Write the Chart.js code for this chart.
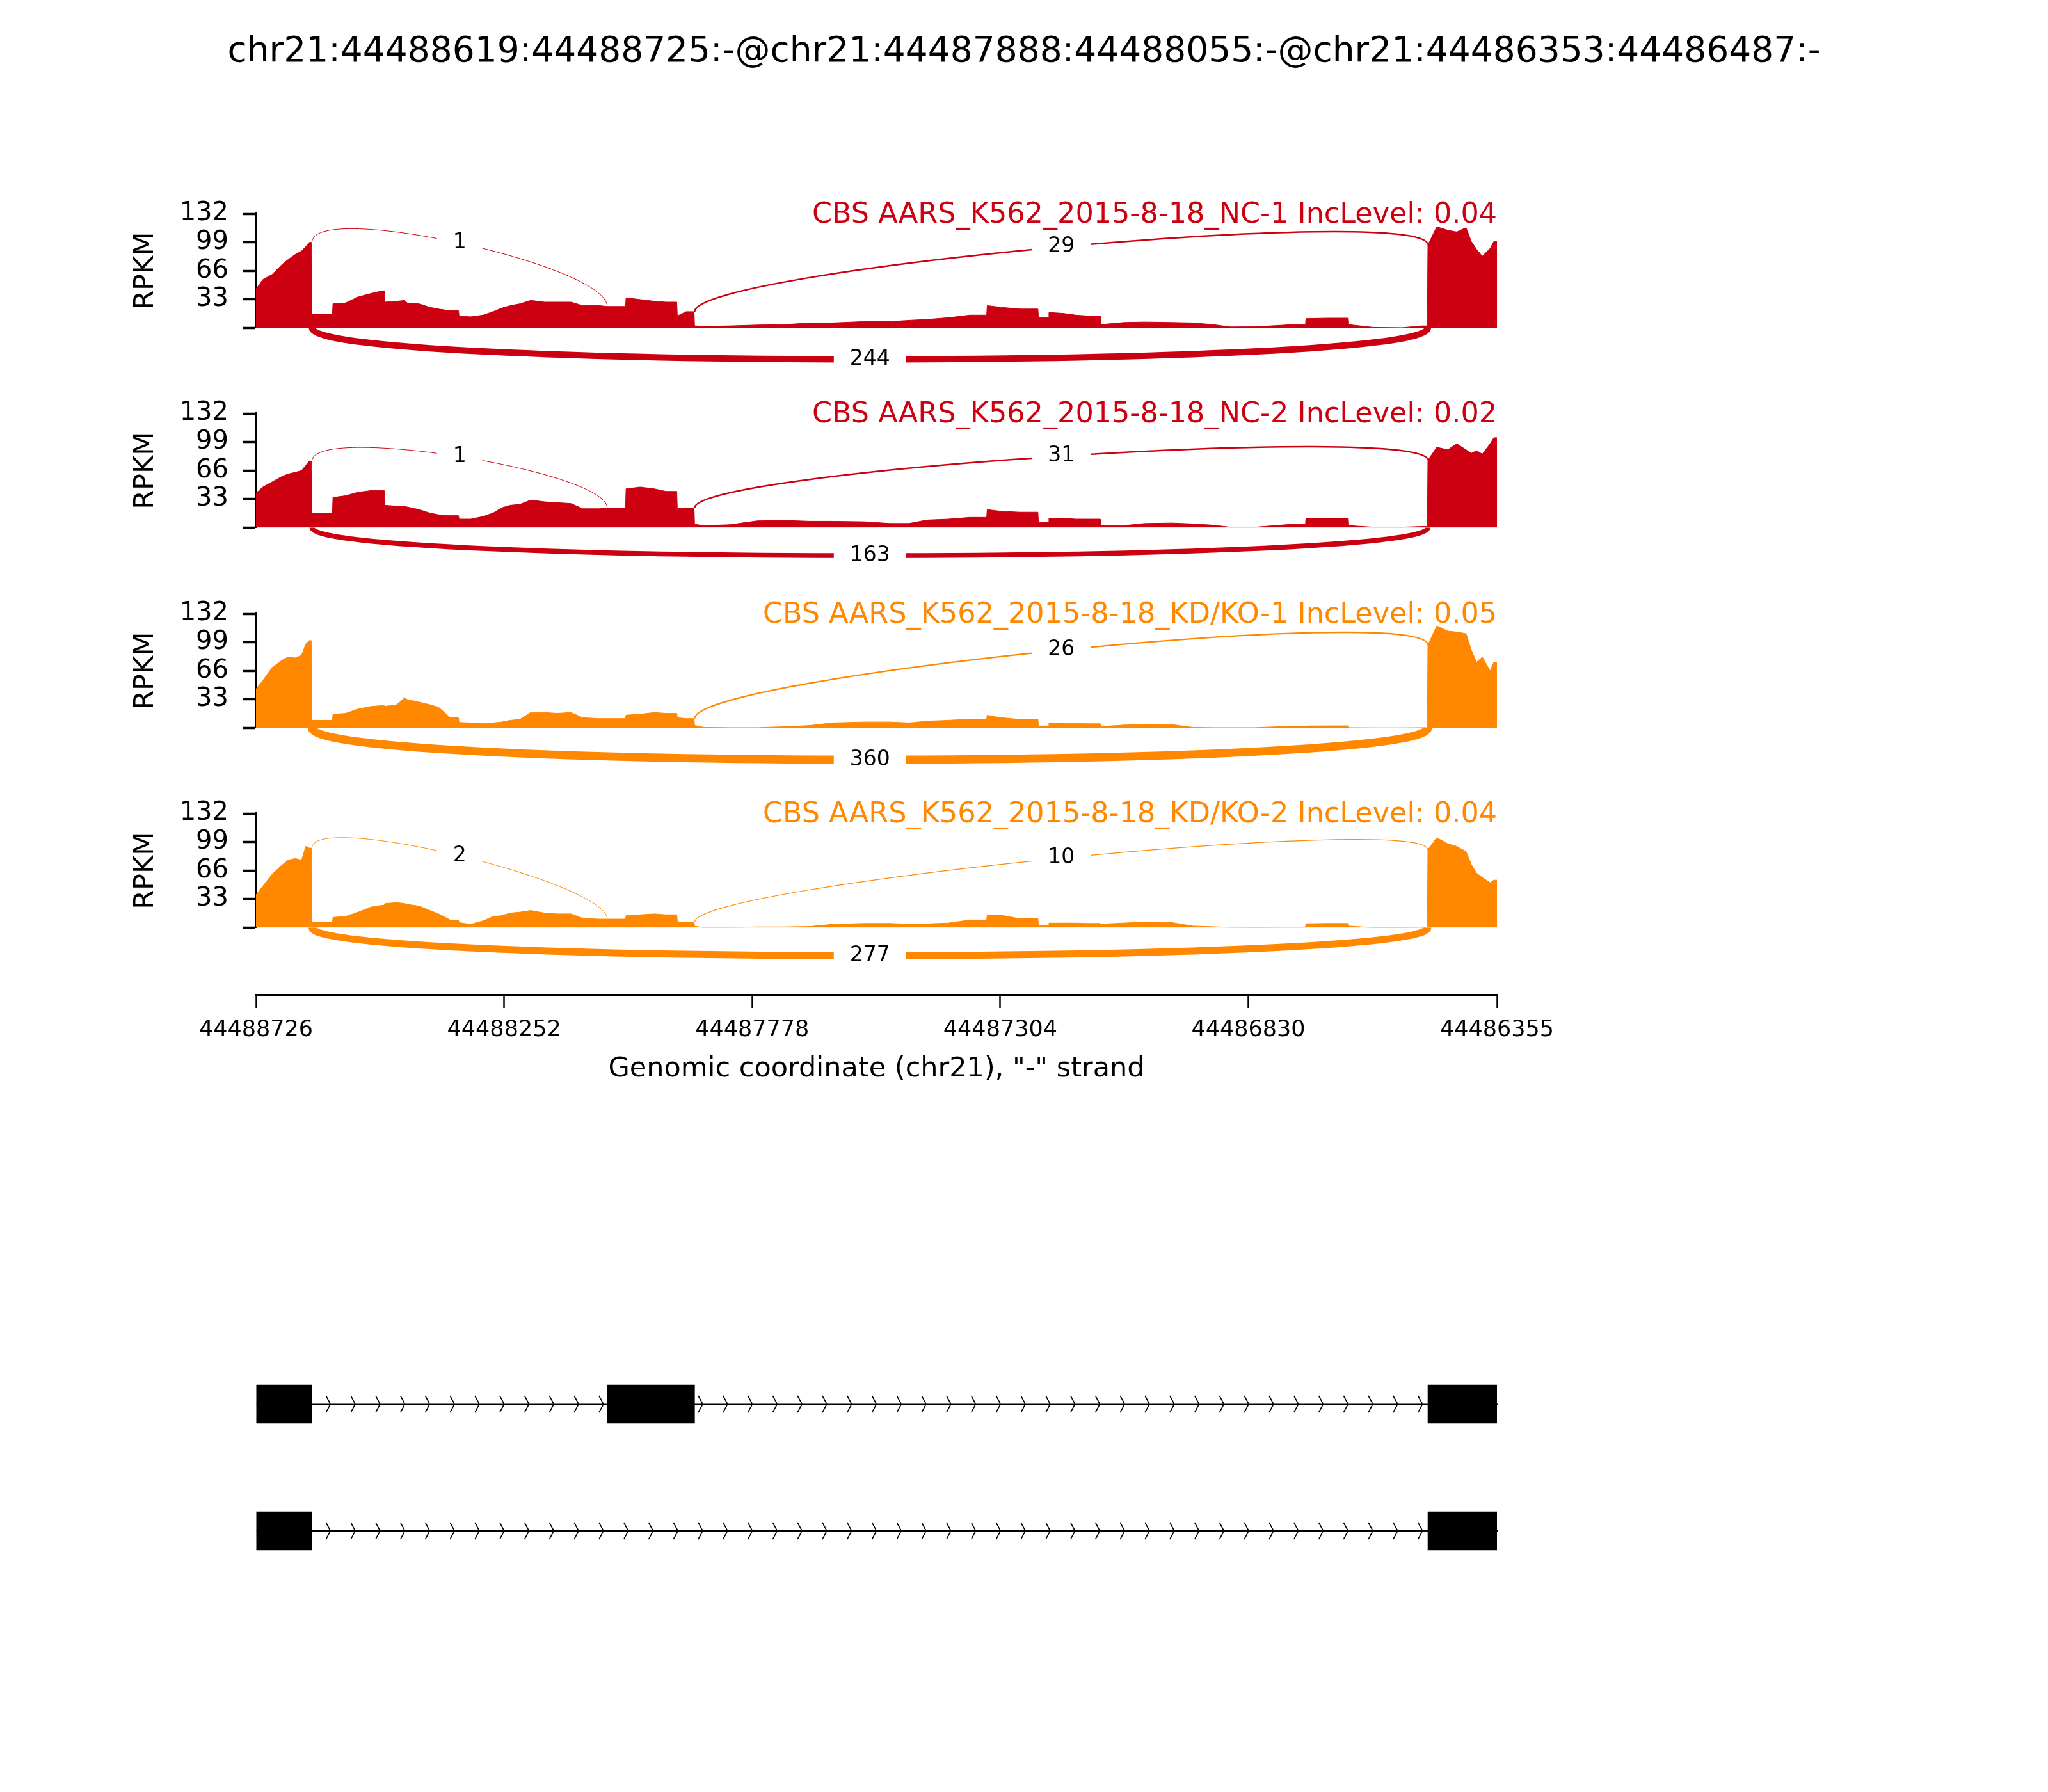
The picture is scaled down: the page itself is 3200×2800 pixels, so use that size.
<!DOCTYPE html>
<html>
<head>
<meta charset="utf-8">
<script src="https://cdn.jsdelivr.net/npm/chart.js@4.4.1/dist/chart.umd.min.js"></script>
<style>
  body { margin: 0; background: #fff; }
  #page { position: relative; width: 3200px; height: 2800px; background: #fff; overflow: hidden; }
  #page canvas { position: absolute; left: 0; }
  #title { position: absolute; left: 0; top: 50px; width: 3200px; text-align: center;
           font: 55px "DejaVu Sans"; line-height: 1; color: #000; }
</style>
</head>
<body>
<div id="page">
  <div id="title">chr21:44488619:44488725:-@chr21:44487888:44488055:-@chr21:44486353:44486487:-</div>
</div>
<script>
// genomic window, shown right-to-left ("-" strand)
const axisMax = 44488726;
const axisMin = 44486355;

const xTickValues = [44488726, 44488252, 44487778, 44487304, 44486830, 44486355];
const xTickLabels = ['44488726', '44488252', '44487778', '44487304', '44486830', '44486355'];

// coverage sample positions (last entry closes the track)
const positions = [
  44488726, 44488713, 44488695, 44488677, 44488665, 44488651, 44488639, 44488631, 44488624,
  44488619, 44488579, 44488555, 44488531, 44488506, 44488485, 44488480, 44488457, 44488442,
  44488437, 44488414, 44488394, 44488377, 44488355, 44488338, 44488316, 44488292, 44488273,
  44488257, 44488240, 44488222, 44488201, 44488175, 44488151, 44488124, 44488102, 44488071,
  44488055, 44488019, 44487992, 44487965, 44487943, 44487921, 44487904,
  44487888, 44487870, 44487821, 44487768, 44487717, 44487667, 44487625, 44487565, 44487515,
  44487478, 44487444, 44487403, 44487362, 44487329, 44487302, 44487266, 44487231, 44487211,
  44487184, 44487160, 44487136, 44487112, 44487068, 44487028, 44486976, 44486936, 44486897,
  44486865, 44486817, 44486754, 44486720, 44486677, 44486638, 44486591, 44486536, 44486499,
  44486487, 44486470, 44486449, 44486432, 44486414, 44486404, 44486394, 44486383, 44486368, 44486361,
  44486355
];
// positions where coverage jumps abruptly (exon edges, read pile-ups)
const cliffs = [44488619, 44488579, 44488480, 44488338, 44488019, 44487921, 44487888,
                44487329, 44487231, 44487211, 44487112, 44486720, 44486638, 44486487];

// RPKM at each position
const rpkmNC1 = [
  45, 56, 62, 73, 79, 85, 89, 94, 99,
  16, 28, 29, 36, 40, 43, 30, 31, 32,
  29, 28, 24, 22, 20, 14, 13, 15, 19,
  23, 26, 28, 32, 30, 30, 30, 26, 26,
  25, 35, 33, 31, 30, 14, 19,
  2.5, 2, 2.5, 3.5, 4, 6, 6, 7.5, 7.5,
  9, 10, 12, 15, 26, 24, 22, 12, 18,
  17, 15, 14, 4, 6.5, 7, 6.5, 6, 4,
  1.3, 1.5, 3.7, 11, 11.5, 4, 0.8, 0.5, 2.5,
  96, 117, 113, 111, 116, 100, 91, 83, 92, 100
];
const rpkmNC2 = [
  40, 47, 53, 59, 62, 64, 66, 72, 77,
  17, 35, 37, 41, 43, 43, 26, 25, 25,
  24, 21, 17, 15, 14, 10, 10, 13, 17,
  23, 26, 27, 32, 30, 29, 28, 22, 22,
  23, 45, 47, 45, 42, 22, 23,
  4, 2.5, 3.5, 8, 8.5, 7.5, 7.5, 7, 5,
  5, 9, 10, 12, 21, 19, 18, 6, 11,
  11, 10, 10, 2.5, 2.5, 5, 5.5, 4.5, 3,
  0.7, 0.7, 3.7, 11, 11, 2.5, 0.7, 0.7, 1.5,
  78, 93, 90, 97, 90, 86, 89, 85, 97, 104
];
const rpkmKD1 = [
  45, 55, 70, 78, 82, 81, 84, 97, 101,
  9, 16, 17, 22, 25, 26, 25, 27, 35,
  33, 30, 27, 24, 12, 6.5, 6, 5.5, 6,
  7, 9, 10, 18, 18, 17, 18, 12, 11,
  11, 15, 16, 18, 17, 12, 11,
  3, 0.8, 0.5, 0.5, 1.5, 3, 6, 7, 7,
  6, 8, 9, 10.4, 14.8, 12, 10, 2.4, 5.6,
  5.6, 5.2, 5, 1.7, 3.5, 4.2, 4, 0.8, 0.5,
  0.5, 0.5, 2, 2.4, 2.6, 0.5, 0.3, 0.3, 0.5,
  96, 118, 112, 111, 109, 90, 76, 82, 66, 76
];
const rpkmKD2 = [
  38, 48, 62, 72, 78, 80, 78, 94, 92,
  6.7, 12, 13, 18, 24, 26, 28, 29, 28,
  27, 25, 20, 16, 9, 6, 4, 8, 13,
  14, 17, 18, 20, 17, 16, 16, 11, 10,
  10, 14, 15, 16, 15, 7, 6.5,
  1.7, 0.3, 0.3, 1, 1, 1.5, 4, 5, 5,
  4.2, 4.5, 5.5, 9, 15, 14.5, 10.4, 2.2, 5.4,
  5.4, 5.4, 5, 4.2, 5.5, 6.5, 6, 2, 1.2,
  0.5, 0.2, 0.5, 4.7, 5, 2, 0.2, 0.2, 0.5,
  90, 104, 97, 94, 88, 73, 63, 58, 52, 55
];

// splice junctions: exon1->exon2, exon2->exon3, exon1->exon3 (skipping)
const junctionFrom = [44488619, 44487888, 44488619];
const junctionTo = [44488055, 44486487, 44486487];
const junctionSide = ['up', 'up', 'down'];

const countsNC1 = [1, 29, 244];
const countsNC2 = [1, 31, 163];
const countsKD1 = [0, 26, 360];
const countsKD2 = [2, 10, 277];

const sampleNames = [
  'CBS AARS_K562_2015-8-18_NC-1',
  'CBS AARS_K562_2015-8-18_NC-2',
  'CBS AARS_K562_2015-8-18_KD/KO-1',
  'CBS AARS_K562_2015-8-18_KD/KO-2'
];
const incLevels = ['0.04', '0.02', '0.05', '0.04'];
const sampleRpkm = [rpkmNC1, rpkmNC2, rpkmKD1, rpkmKD2];
const sampleCounts = [countsNC1, countsNC2, countsKD1, countsKD2];
const sampleColors = ['#CC0011', '#CC0011', '#FF8800', '#FF8800'];

// isoform structures
const isoformNames = ['inclusion', 'skipping'];
const isoformExons = [
  [[44488619, 44488725], [44487888, 44488055], [44486353, 44486487]],
  [[44488619, 44488725], [44486353, 44486487]]
];
const arrowCount = 50;

Chart.defaults.font.family = '"DejaVu Sans"';
Chart.defaults.color = '#000';

const page = document.getElementById('page');
const FONT = '"DejaVu Sans"';

function addCanvas(top, height) {
  const c = document.createElement('canvas');
  c.width = 3200;
  c.height = height;
  c.style.top = top + 'px';
  c.style.width = '3200px';
  c.style.height = height + 'px';
  page.appendChild(c);
  return c;
}

function coverageData(values) {
  const pts = [];
  values.forEach((v, k) => {
    // keep the previous level right up to an abrupt edge
    if (k > 0 && cliffs.includes(positions[k])) pts.push({ x: positions[k] + 1, y: values[k - 1] });
    pts.push({ x: positions[k], y: v });
  });
  pts.push({ x: positions[positions.length - 1], y: values[values.length - 1] });
  return pts;
}

function arcPlugin(i) {
  return {
    id: 'arcs' + i,
    afterDatasetsDraw(chart) {
      const { ctx, scales: { x, y } } = chart;
      const cov = sampleRpkm[i];
      const counts = sampleCounts[i];
      const color = sampleColors[i];
      const lift = 0.4125 * Math.max(...cov);
      ctx.save();
      const labels = [];
      junctionFrom.forEach((from, k) => {
        const n = counts[k];
        if (!n) return;
        const to = junctionTo[k];
        let v1 = 0, v2 = 0, h = -lift;
        if (junctionSide[k] === 'up') {
          v1 = cov[positions.indexOf(from) - 1];
          v2 = cov[positions.indexOf(to)];
          h = lift;
        }
        const x1 = x.getPixelForValue(from), x2 = x.getPixelForValue(to);
        const p = [
          [x1, y.getPixelForValue(v1)], [x1, y.getPixelForValue(v1 + h)],
          [x2, y.getPixelForValue(v2 + h)], [x2, y.getPixelForValue(v2)]
        ];
        ctx.beginPath();
        ctx.moveTo(p[0][0], p[0][1]);
        ctx.bezierCurveTo(p[1][0], p[1][1], p[2][0], p[2][1], p[3][0], p[3][1]);
        ctx.strokeStyle = color;
        ctx.lineWidth = Math.max(1, 0.28 * Math.pow(n, 0.65));
        ctx.stroke();
        const mx = (p[0][0] + 3 * p[1][0] + 3 * p[2][0] + p[3][0]) / 8;
        const my = (p[0][1] + 3 * p[1][1] + 3 * p[2][1] + p[3][1]) / 8;
        labels.push([String(n), mx, my]);
      });
      ctx.font = '33px ' + FONT;
      ctx.textAlign = 'center';
      ctx.textBaseline = 'middle';
      labels.forEach(([t, mx, my]) => {
        const w = ctx.measureText(t).width;
        ctx.fillStyle = '#fff';
        ctx.fillRect(mx - w / 2 - 25, my - 22, w + 50, 44);
        ctx.fillStyle = '#000';
        ctx.fillText(t, mx, my);
      });
      ctx.font = '44.5px ' + FONT;
      ctx.fillStyle = color;
      ctx.textAlign = 'right';
      ctx.textBaseline = 'alphabetic';
      ctx.fillText(sampleNames[i] + ' IncLevel: ' + incLevels[i], x.right, y.getPixelForValue(132) + 13.5);
      ctx.restore();
    }
  };
}

// one canvas per sample
const panelTop = 334, panelStep = 312.4, panelH = 178.6, padTop = 60, canvasH = 330;

sampleNames.forEach((name, i) => {
  const c = addCanvas(panelTop + i * panelStep - padTop, canvasH);
  new Chart(c, {
    type: 'line',
    data: {
      datasets: [{
        data: coverageData(sampleRpkm[i]),
        fill: 'origin',
        tension: 0,
        backgroundColor: sampleColors[i],
        borderColor: sampleColors[i],
        borderWidth: 1,
        pointRadius: 0
      }]
    },
    options: {
      responsive: false,
      animation: false,
      devicePixelRatio: 1,
      layout: { autoPadding: false, padding: { left: 0, right: 861, top: padTop, bottom: canvasH - padTop - panelH } },
      plugins: { legend: { display: false }, tooltip: { enabled: false } },
      scales: {
        x: { type: 'linear', reverse: true, min: axisMin, max: axisMax, display: false },
        y: {
          min: 0, max: 132,
          ticks: { stepSize: 33, autoSkip: false, padding: 23, color: '#000', font: { size: 40 },
                   callback: v => v === 0 ? '' : v },
          grid: { drawOnChartArea: false, drawTicks: true, tickLength: 20, tickWidth: 3.5, tickColor: '#000' },
          border: { display: true, color: '#000', width: 3.5 },
          title: { display: true, text: 'RPKM', color: '#000', font: { size: 43 }, padding: { top: 202, bottom: 0 } },
          afterFit: s => { s.width = 400; }
        }
      }
    },
    plugins: [arcPlugin(i)]
  });
});

// shared genomic axis
new Chart(addCanvas(1455, 300), {
  type: 'line',
  data: { datasets: [] },
  options: {
    responsive: false,
    animation: false,
    devicePixelRatio: 1,
    layout: { autoPadding: false, padding: { left: 400, right: 861, top: 0, bottom: 0 } },
    plugins: { legend: { display: false }, tooltip: { enabled: false } },
    scales: {
      x: {
        type: 'linear', reverse: true, min: axisMin, max: axisMax, position: 'bottom',
        afterBuildTicks: s => { s.ticks = xTickValues.map(v => ({ value: v })); },
        ticks: { autoSkip: false, maxRotation: 0, padding: 14, color: '#000', font: { size: 35 },
                 callback: (v, k) => xTickLabels[k] },
        grid: { drawOnChartArea: false, drawTicks: true, tickLength: 20, tickWidth: 2.5, tickColor: '#000' },
        border: { display: true, color: '#000', width: 4 },
        title: { display: true, text: 'Genomic coordinate (chr21), "-" strand', color: '#000',
                 font: { size: 43 }, padding: { top: 0, bottom: 58 } },
        afterFit: s => { s.height = 200; }
      },
      y: { display: false }
    }
  }
});

// isoform track
const geneTrack = {
  id: 'geneTrack',
  beforeDatasetsDraw(chart) {
    const { ctx, scales: { x, y } } = chart;
    ctx.save();
    ctx.strokeStyle = '#000';
    isoformExons.forEach((exons, t) => {
      const cy = y.getPixelForValue(t);
      const left = x.getPixelForValue(Math.max(...exons.map(e => e[1])));
      const right = x.getPixelForValue(Math.min(...exons.map(e => e[0])));
      ctx.lineWidth = 3;
      ctx.beginPath();
      ctx.moveTo(left, cy);
      ctx.lineTo(right, cy);
      ctx.stroke();
      ctx.lineWidth = 1.6;
      for (let k = 0; k < arrowCount; k++) {
        const tip = x.getPixelForValue(axisMax - k * (axisMax - axisMin) / arrowCount);
        if (tip - 7 < left || tip > right) continue;
        ctx.beginPath();
        ctx.moveTo(tip - 7, cy - 13);
        ctx.lineTo(tip, cy);
        ctx.lineTo(tip - 7, cy + 13);
        ctx.stroke();
      }
    });
    ctx.restore();
  }
};

new Chart(addCanvas(2095, 396), {
  type: 'bar',
  data: {
    labels: isoformNames,
    datasets: [{
      data: isoformExons.flatMap((exons, t) => exons.map(e => ({ x: e, y: isoformNames[t] }))),
      backgroundColor: '#000',
      borderWidth: 0,
      barThickness: 60,
      grouped: false
    }]
  },
  options: {
    indexAxis: 'y',
    responsive: false,
    animation: false,
    devicePixelRatio: 1,
    layout: { autoPadding: false, padding: { left: 400, right: 861, top: 0, bottom: 0 } },
    plugins: { legend: { display: false }, tooltip: { enabled: false } },
    scales: {
      x: { type: 'linear', reverse: true, min: axisMin, max: axisMax, display: false },
      y: { display: false }
    }
  },
  plugins: [geneTrack]
});
</script>
</body>
</html>
